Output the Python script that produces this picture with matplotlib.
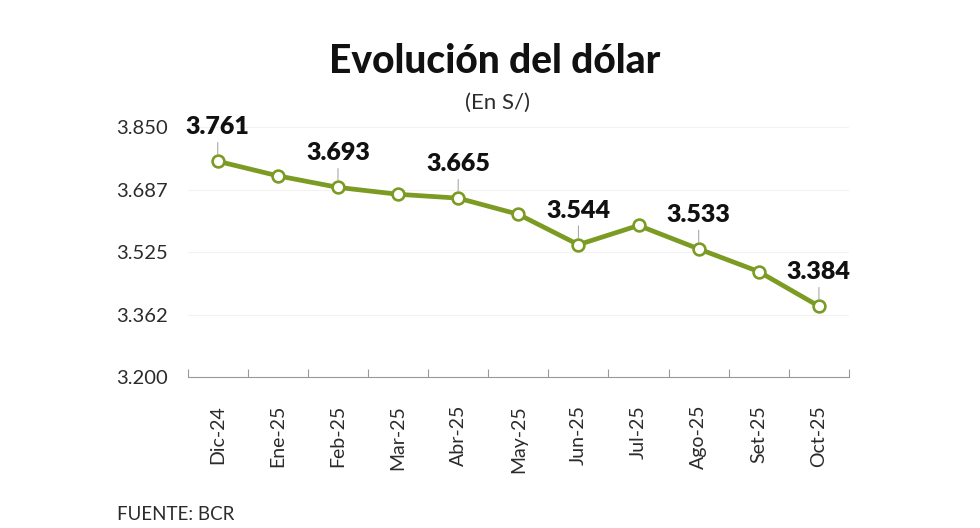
import matplotlib
matplotlib.use("Agg")
import matplotlib.pyplot as plt

# Data (tipo de cambio, S/ por dolar)
months = ["Dic-24", "Ene-25", "Feb-25", "Mar-25", "Abr-25", "May-25",
          "Jun-25", "Jul-25", "Ago-25", "Set-25", "Oct-25"]
values = [3.761, 3.723, 3.693, 3.675, 3.665, 3.623,
          3.544, 3.594, 3.533, 3.474, 3.384]
labeled = ["Dic-24", "Feb-25", "Abr-25", "Jun-25", "Ago-25", "Oct-25"]
yticks = [3.200, 3.362, 3.525, 3.687, 3.850]

GREEN = "#7b9b22"
TXT = "#2b2b2b"
FONT = ["Lato", "DejaVu Sans"]

plt.rcParams["font.family"] = FONT

fig = plt.figure(figsize=(9.8, 5.28), dpi=100)
ax = fig.add_axes([0.1915, 0.286, 0.6748, 0.4735])

x = list(range(len(months)))
ax.plot(x, values, color=GREEN, lw=3.4, marker="o", ms=8.5,
        mfc="white", mec=GREEN, mew=1.9, zorder=3, clip_on=False)

# value labels with small leader lines
for i, (m, v) in enumerate(zip(months, values)):
    if m not in labeled:
        continue
    ax.annotate(f"{v:.3f}", xy=(i, v), xytext=(0, 16.5), textcoords="offset points",
                ha="center", va="bottom", fontsize=18, fontweight="heavy",
                color="#111111", annotation_clip=False)
    ax.annotate("", xy=(i, v), xytext=(0, 13.5), textcoords="offset points",
                xycoords="data",
                arrowprops=dict(arrowstyle="-", color="#aaaaaa", lw=0.8,
                                shrinkA=0, shrinkB=5),
                annotation_clip=False)

ax.set_xlim(-0.5, len(months) - 0.5)
ax.set_ylim(yticks[0], yticks[-1])
ax.set_yticks(yticks)
ax.set_yticklabels([f"{t:.3f}" for t in yticks], fontsize=14.5, color=TXT)
ax.set_xticks(x)
ax.set_xticklabels(months, rotation=90, fontsize=14, color=TXT)
ax.set_xticks([i - 0.5 for i in range(len(months) + 1)], minor=True)
ax.tick_params(axis="x", which="major", length=0, pad=20)
ax.tick_params(axis="x", which="minor", length=6, direction="in", color="#999999", width=0.8)
ax.tick_params(axis="y", length=0, pad=14)
for lbl in ax.get_yticklabels():
    lbl.set_horizontalalignment("right")

ax.grid(axis="y", color="#f2f2f2", lw=0.8)
ax.set_axisbelow(True)
for s in ["top", "right", "left"]:
    ax.spines[s].set_visible(False)
ax.spines["bottom"].set_color("#999999")
ax.spines["bottom"].set_linewidth(0.8)

fig.text(0.505, 0.883, "Evolución del dólar", ha="center", va="center",
         fontsize=28, fontweight="black", color="#111111")
fig.text(0.508, 0.805, "(En S/)", ha="center", va="center",
         fontsize=16, color=TXT)
fig.text(0.119, 0.025, "FUENTE: BCR", ha="left", va="center",
         fontsize=13.5, color=TXT)

fig.savefig("out.png", dpi=100)
